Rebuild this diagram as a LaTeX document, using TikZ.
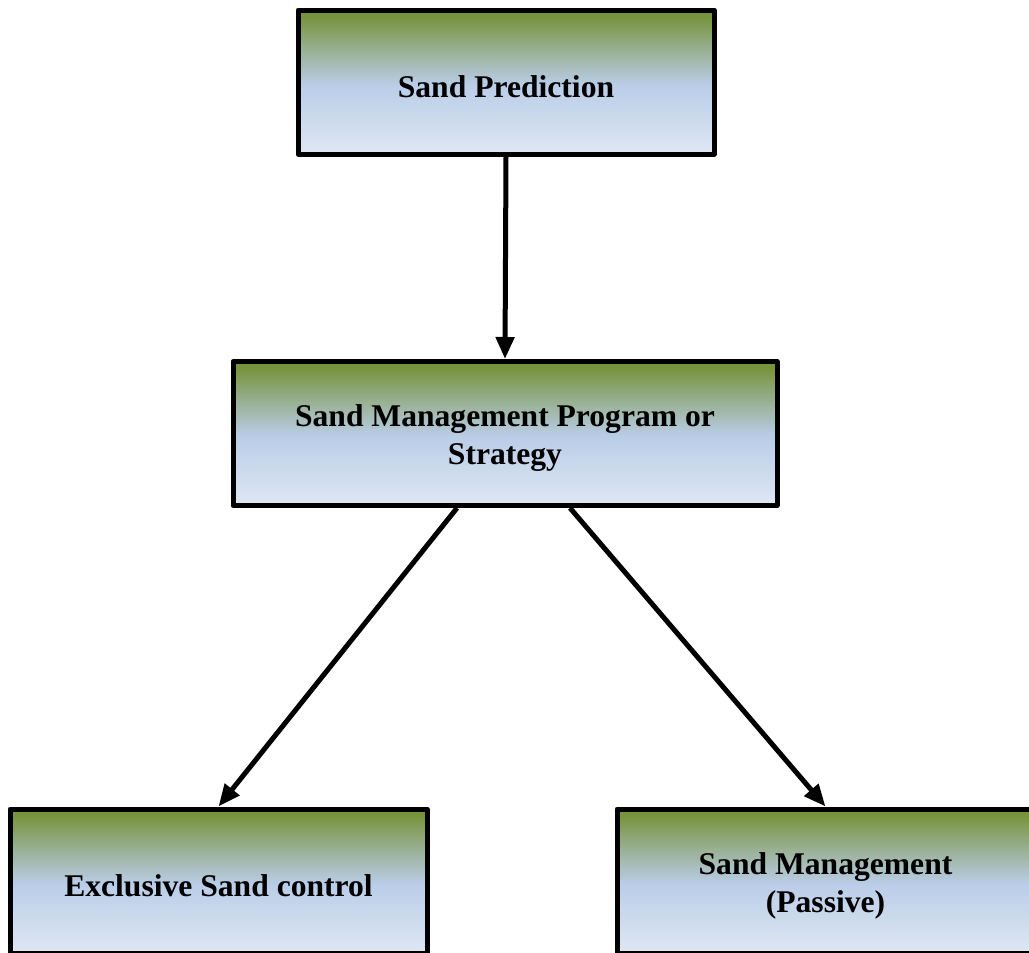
\documentclass[tikz,border=0pt]{standalone}
\usepackage{fontspec}
\setmainfont{Liberation Serif}
\usetikzlibrary{arrows.meta,calc}
\definecolor{gtop}{HTML}{77933C}
\definecolor{gmid}{HTML}{BACDE8}
\definecolor{gbot}{HTML}{DFE7F3}
\pgfdeclareverticalshading{boxgrad}{100bp}{color(0bp)=(gbot); color(25bp)=(gbot); color(49bp)=(gmid); color(60bp)=(gmid!55!gtop); color(73bp)=(gtop); color(100bp)=(gtop)}
\begin{document}
\begin{tikzpicture}[x=0.5pt,y=-0.5pt,
  box/.style={draw=black,line width=2.5pt,line join=round,rectangle,shading=boxgrad,
    minimum height=72pt,inner sep=0pt},
  lbl/.style={align=center,yshift=-2.5pt,font=\fontsize{15.8pt}{19pt}\selectfont\bfseries},
  conn/.style={line width=2.5pt,-{Triangle[length=11pt,width=9pt]}}]
\useasboundingbox (0,0) rectangle (1029,953);
\clip (0,0) rectangle (1029,953);
\node[box,minimum width=208pt,label={[lbl]center:Sand Prediction}] (pred) at (506,82) {};
\node[box,minimum width=272pt,label={[lbl]center:Sand Management Program or\\Strategy}] (prog) at (505,433.5) {};
\node[box,minimum width=208.5pt,label={[lbl]center:Exclusive Sand control}] (excl) at (218.5,881) {};
\node[box,minimum width=208.5pt,label={[lbl]center:Sand Management\\(Passive)}] (pass) at (825.5,881) {};
\draw[conn] (pred.south) -- (prog.north);
\draw[conn] ([xshift=-24pt]prog.south) -- (excl.north);
\draw[conn] ([xshift=32.5pt]prog.south) -- (pass.north);
\end{tikzpicture}
\end{document}
